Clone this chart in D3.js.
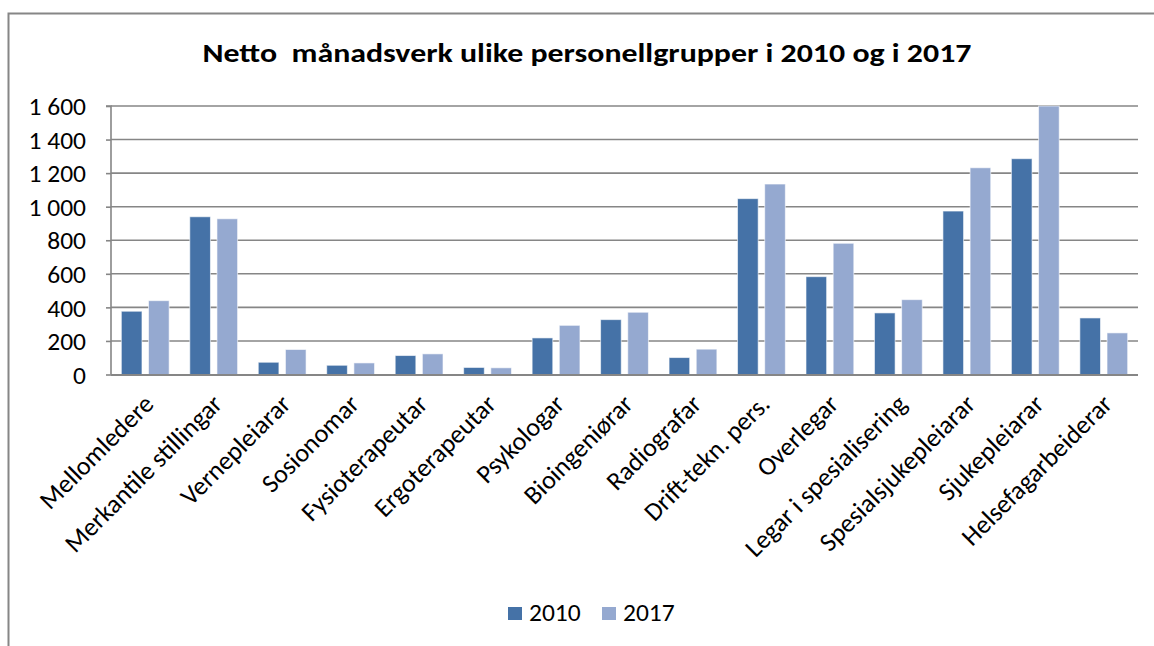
<!DOCTYPE html>
<html><head><meta charset="utf-8">
<script src="https://cdn.jsdelivr.net/npm/d3@7/dist/d3.min.js"></script>
<style>
html,body{margin:0;padding:0;background:#fff;}
svg text{font-family:Carlito, Lato, "Open Sans", sans-serif;fill:#000;}
</style></head>
<body><svg id="c" width="1154" height="646"></svg>
<script>
const categories = ["Mellomledere","Merkantile stillingar","Vernepleiarar","Sosionomar","Fysioterapeutar","Ergoterapeutar","Psykologar","Bioingeniørar","Radiografar","Drift-tekn. pers.","Overlegar","Legar i spesialisering","Spesialsjukepleiarar","Sjukepleiarar","Helsefagarbeiderar"];
const seriesNames = ["2010","2017"];
const values2010 = [377, 940, 73, 55, 113, 42, 218, 327, 101, 1048, 583, 367, 974, 1286, 337];
const values2017 = [440, 928, 149, 69, 123, 40, 293, 371, 151, 1135, 782, 446, 1232, 1600, 248];
const yTicks = [0,200,400,600,800,1000,1200,1400,1600];
const colors = ["#4572A7","#95A9D0"];

const svg = d3.select("#c");
const m = {l:111, r:1138, t:106, b:374.5};

// outer border
svg.append("rect").attr("x",8.5).attr("y",13.5).attr("width",1160).attr("height",700)
  .attr("fill","none").attr("stroke","#868686").attr("stroke-width",2);

const x = d3.scaleBand().domain(categories).range([m.l,m.r]).paddingInner(0).paddingOuter(0);
const xs = d3.scaleBand().domain(seriesNames).range([0,x.bandwidth()]).paddingInner(0.24).paddingOuter(0.38);
const y = d3.scaleLinear().domain([0,1600]).range([m.b,m.t]);

const fmt = v => d3.format(",")(v).replace(/,/g," ");

// gridlines
svg.append("g").selectAll("line").data(yTicks.filter(d=>d>0)).join("line")
  .attr("x1",m.l).attr("x2",m.r).attr("y1",d=>y(d)).attr("y2",d=>y(d))
  .attr("stroke","#868686").attr("stroke-width",1.6);

// y axis
const ya = svg.append("g").attr("transform",`translate(${m.l},0)`)
  .call(d3.axisLeft(y).tickValues(yTicks).tickFormat(fmt).tickSize(5).tickPadding(20));
ya.select(".domain").attr("stroke","#868686").attr("stroke-width",1.6).attr("d",`M-5,${m.t}H0V${m.b}`);
ya.selectAll(".tick line").attr("stroke","#868686").attr("stroke-width",1.6);
ya.selectAll(".tick text").attr("font-size",25.5).attr("font-family","Carlito, Lato, sans-serif").attr("fill","#000").attr("dy","0.34em");

// bars
const data = categories.map((c,i)=>({c, v:[values2010[i], values2017[i]]}));
const g = svg.append("g");
data.forEach(d=>{
  seriesNames.forEach((s,j)=>{
    g.append("rect")
      .attr("x", x(d.c)+xs(s)).attr("width", xs.bandwidth())
      .attr("y", y(d.v[j])).attr("height", y(0)-y(d.v[j]))
      .attr("fill", colors[j]).attr("stroke","#ffffff").attr("stroke-width",1).attr("stroke-opacity",0.6);
  });
});

// x axis baseline
svg.append("line").attr("x1",m.l).attr("x2",m.r).attr("y1",m.b+0.5).attr("y2",m.b+0.5)
  .attr("stroke","#868686").attr("stroke-width",1.8);

// x labels
const xa = svg.append("g").attr("transform",`translate(0,${m.b})`)
  .call(d3.axisBottom(x).tickSize(0).tickFormat(d=>d));
xa.select(".domain").remove();
xa.selectAll(".tick text")
  .attr("font-size",26).attr("font-family","Carlito, Lato, sans-serif").attr("fill","#000")
  .attr("text-anchor","end").attr("y",0).attr("dy",0)
  .attr("transform","translate(10,31) rotate(-45)");

// title
svg.append("text").attr("x",587).attr("y",62).attr("text-anchor","middle")
  .attr("font-size",26).attr("font-weight","bold")
  .attr("textLength",769).attr("lengthAdjust","spacingAndGlyphs")
  .style("white-space","pre")
  .text("Netto  månadsverk ulike personellgrupper i 2010 og i 2017");

// legend
const lg = svg.append("g");
const lx = [508, 602];
seriesNames.forEach((s,j)=>{
  lg.append("rect").attr("x",lx[j]).attr("y",607).attr("width",14).attr("height",13).attr("fill",colors[j]);
  lg.append("text").attr("x",lx[j]+21).attr("y",621).attr("font-size",25.5).text(s);
});
</script></body></html>
